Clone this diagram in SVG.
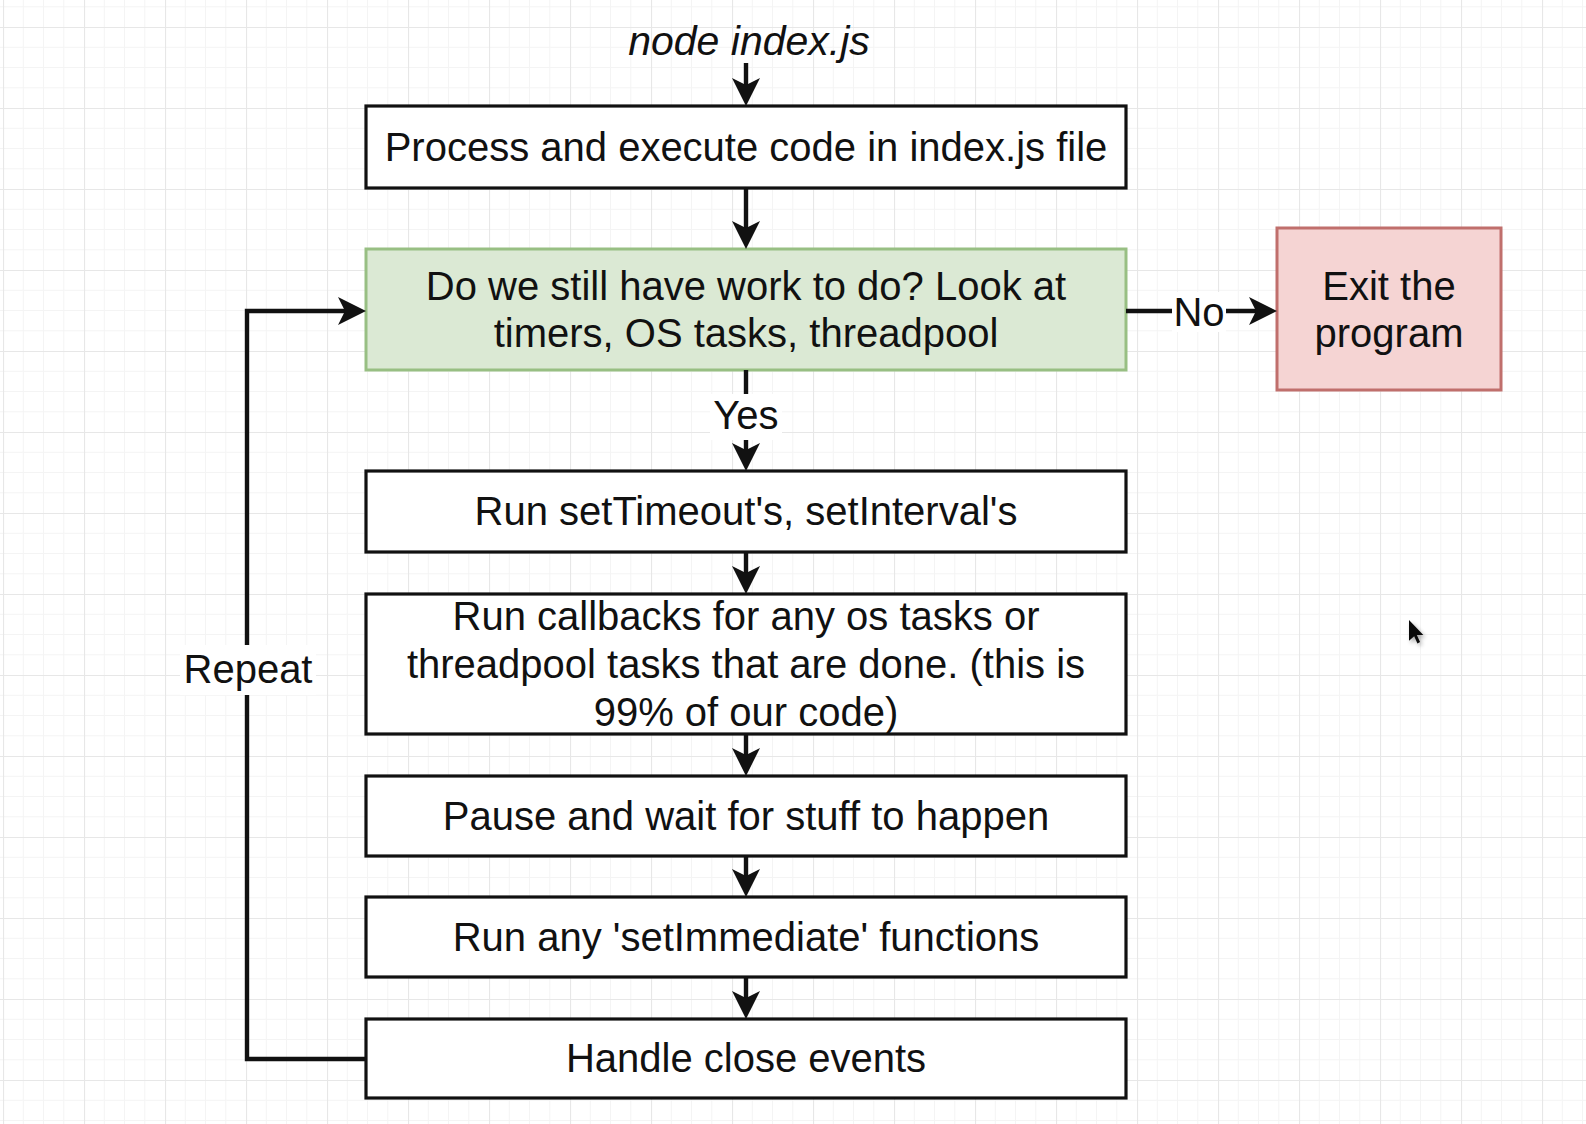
<svg xmlns="http://www.w3.org/2000/svg" width="1586" height="1124" viewBox="0 0 1586 1124">
  <defs>
    <!-- editor grid: minor lines every quarter cell, major every cell -->
    <pattern id="grid" x="3" y="27" width="81" height="81" patternUnits="userSpaceOnUse">
      <path d="M20.25 0V81M40.5 0V81M60.75 0V81M0 20.25H81M0 40.5H81M0 60.75H81" stroke="#f4f4f4" stroke-width="1" fill="none"/>
      <path d="M0.5 0V81M0 0.5H81" stroke="#e7e7e7" stroke-width="1.2" fill="none"/>
    </pattern>
    <marker id="arrow" markerUnits="userSpaceOnUse" viewBox="0 0 28 28" markerWidth="28" markerHeight="28" refX="7" refY="14" orient="auto">
      <path d="M0 0L28 14L0 28L7 14Z" fill="#111"/>
    </marker>
    <filter id="soft" x="-50%" y="-50%" width="200%" height="200%">
      <feGaussianBlur stdDeviation="1.6"/>
    </filter>
    <style>
      .box { fill: #ffffff; stroke: #111111; stroke-width: 3.2; }
      .decision { fill: #dbe9d4; stroke: #98bf83; stroke-width: 3; }
      .exit { fill: #f5d4d3; stroke: #c06f6c; stroke-width: 3; }
      .label { font-family: "Liberation Sans", Arial, Helvetica, sans-serif; font-size: 40px; fill: #111111; text-anchor: middle; }
      .title { font-style: italic; font-size: 41px; }
      .edge { fill: none; stroke: #111111; stroke-width: 4.4; }
      .edge-arrow { marker-end: url(#arrow); }
      .edge-bg { fill: #ffffff; }
    </style>
  </defs>

  <rect width="1586" height="1124" fill="#ffffff"/>
  <rect width="1586" height="1124" fill="url(#grid)"/>

  <!-- entry command -->
  <g id="start">
    <text class="label title" x="749" y="55">node index.js</text>
  </g>

  <g id="process">
    <rect class="box" x="366" y="106" width="760" height="82"/>
    <text class="label" x="746" y="161">Process and execute code in index.js file</text>
  </g>

  <g id="check-work">
    <rect class="decision" x="366" y="249" width="760" height="121"/>
    <text class="label" x="746" y="300">Do we still have work to do? Look at</text>
    <text class="label" x="746" y="347">timers, OS tasks, threadpool</text>
  </g>

  <g id="exit">
    <rect class="exit" x="1277" y="228" width="224" height="162"/>
    <text class="label" x="1389" y="300">Exit the</text>
    <text class="label" x="1389" y="347">program</text>
  </g>

  <g id="timers">
    <rect class="box" x="366" y="471" width="760" height="81"/>
    <text class="label" x="746" y="525">Run setTimeout's, setInterval's</text>
  </g>

  <g id="callbacks">
    <rect class="box" x="366" y="594" width="760" height="140"/>
    <text class="label" x="746" y="630">Run callbacks for any os tasks or</text>
    <text class="label" x="746" y="678">threadpool tasks that are done. (this is</text>
    <text class="label" x="746" y="726">99% of our code)</text>
  </g>

  <g id="pause">
    <rect class="box" x="366" y="776" width="760" height="80"/>
    <text class="label" x="746" y="830">Pause and wait for stuff to happen</text>
  </g>

  <g id="set-immediate">
    <rect class="box" x="366" y="897" width="760" height="80"/>
    <text class="label" x="746" y="951">Run any 'setImmediate' functions</text>
  </g>

  <g id="close-events">
    <rect class="box" x="366" y="1019" width="760" height="79"/>
    <text class="label" x="746" y="1072">Handle close events</text>
  </g>

  <!-- connectors: lines end at the arrowhead notch, the marker reaches the target -->
  <g id="connectors">
    <path class="edge edge-arrow" d="M746 63V85"/>
    <path class="edge edge-arrow" d="M746 188V228"/>
    <path class="edge edge-arrow" d="M746 370V450"/>
    <path class="edge edge-arrow" d="M746 552V573"/>
    <path class="edge edge-arrow" d="M746 734V755"/>
    <path class="edge edge-arrow" d="M746 856V876"/>
    <path class="edge edge-arrow" d="M746 977V998"/>
    <path class="edge edge-arrow" d="M1126 311H1256"/>
    <path class="edge edge-arrow" d="M366 1059H247V311H345"/>

    <rect class="edge-bg" x="1172" y="292" width="54" height="40"/>
    <text class="label" x="1199" y="326">No</text>

    <rect class="edge-bg" x="710" y="394" width="72" height="46"/>
    <text class="label" x="746" y="429">Yes</text>

    <rect class="edge-bg" x="180" y="645" width="136" height="50"/>
    <text class="label" x="248" y="683">Repeat</text>
  </g>

  <!-- mouse pointer with a soft drop shadow -->
  <g id="pointer" transform="translate(1409 620) scale(1.3)">
    <path d="M1.5 2L1.5 18L5.5 14.5L8 20L10 19L7.5 13.5L12.5 13.5Z" fill="#000" opacity="0.35" filter="url(#soft)"/>
    <path d="M0 0L0 16L4 12.5L6.5 18L8.5 17L6 11.5L11 11.5Z" fill="#0a0a0a"/>
  </g>
</svg>
